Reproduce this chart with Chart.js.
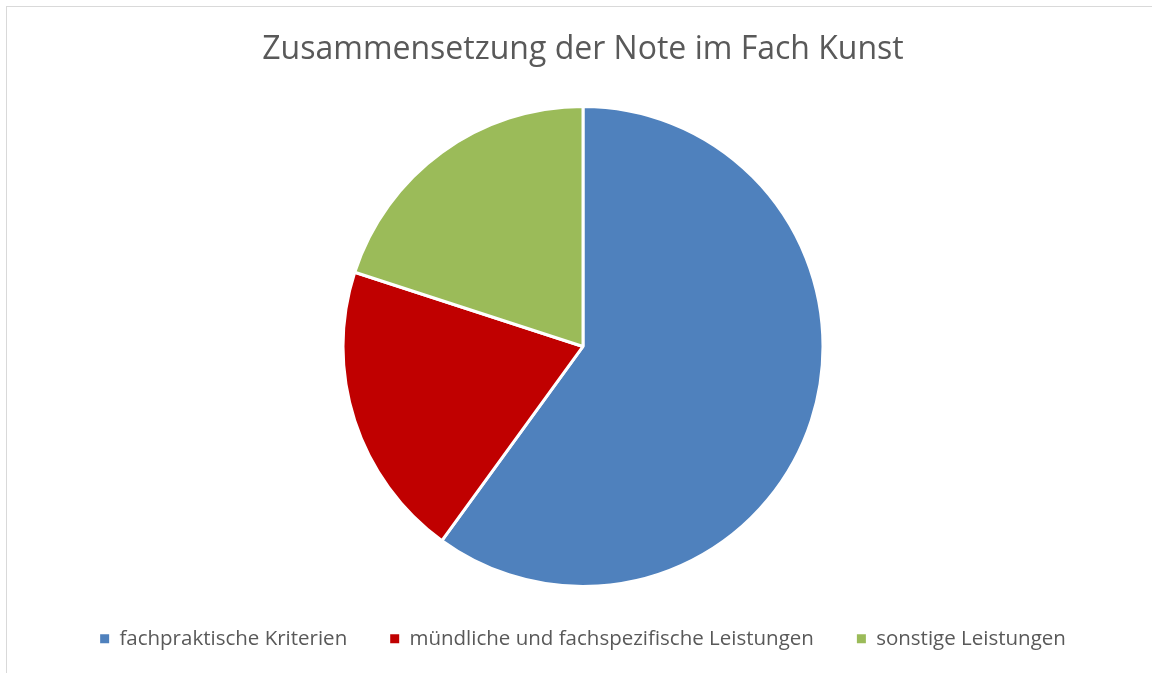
<!DOCTYPE html>
<html>
<head>
<meta charset="utf-8">
<script src="https://cdn.jsdelivr.net/npm/chart.js@4/dist/chart.umd.min.js"></script>
<style>
  html, body { margin: 0; padding: 0; background: #fff; overflow: hidden; }
  #frame {
    position: absolute; left: 6px; top: 6px;
    width: 1152px; height: 681px;
    border: 1px solid #d9d9d9;
    overflow: hidden;
  }
</style>
</head>
<body>
<div id="frame"><canvas id="pieChart" width="1152" height="681"></canvas></div>
<script>
const categories = ['fachpraktische Kriterien', 'mündliche und fachspezifische Leistungen', 'sonstige Leistungen'];
const shares = [60, 20, 20];
const sliceColors = ['#4F81BD', '#C00000', '#9BBB59'];

const ctx = document.getElementById('pieChart').getContext('2d');
const myChart = new Chart(ctx, {
    type: 'pie',
    data: {
        labels: categories,
        datasets: [{
            data: shares,
            backgroundColor: sliceColors,
            borderColor: '#ffffff',
            borderWidth: 3,
            radius: 240,
        }]
    },
    options: {
        responsive: false,
        animation: false,
        layout: { padding: { bottom: 29 } },
        plugins: {
            title: {
                display: true,
                text: 'Zusammensetzung der Note im Fach Kunst',
                color: '#595959',
                font: { family: 'Open Sans', size: 32, weight: 'normal' },
                padding: { top: 24, bottom: 38 },
            },
            legend: {
                position: 'bottom',
                labels: {
                    color: '#595959',
                    font: { family: 'Open Sans', size: 20.5 },
                    boxWidth: 9,
                    boxHeight: 9,
                    padding: 43,
                    generateLabels: function(chart) {
                        const items = Chart.overrides.pie.plugins.legend.labels.generateLabels(chart);
                        items.forEach(function(it) { it.lineWidth = 0; });
                        return items;
                    }
                }
            },
            tooltip: { enabled: false },
        },
    }
});
</script>
</body>
</html>
